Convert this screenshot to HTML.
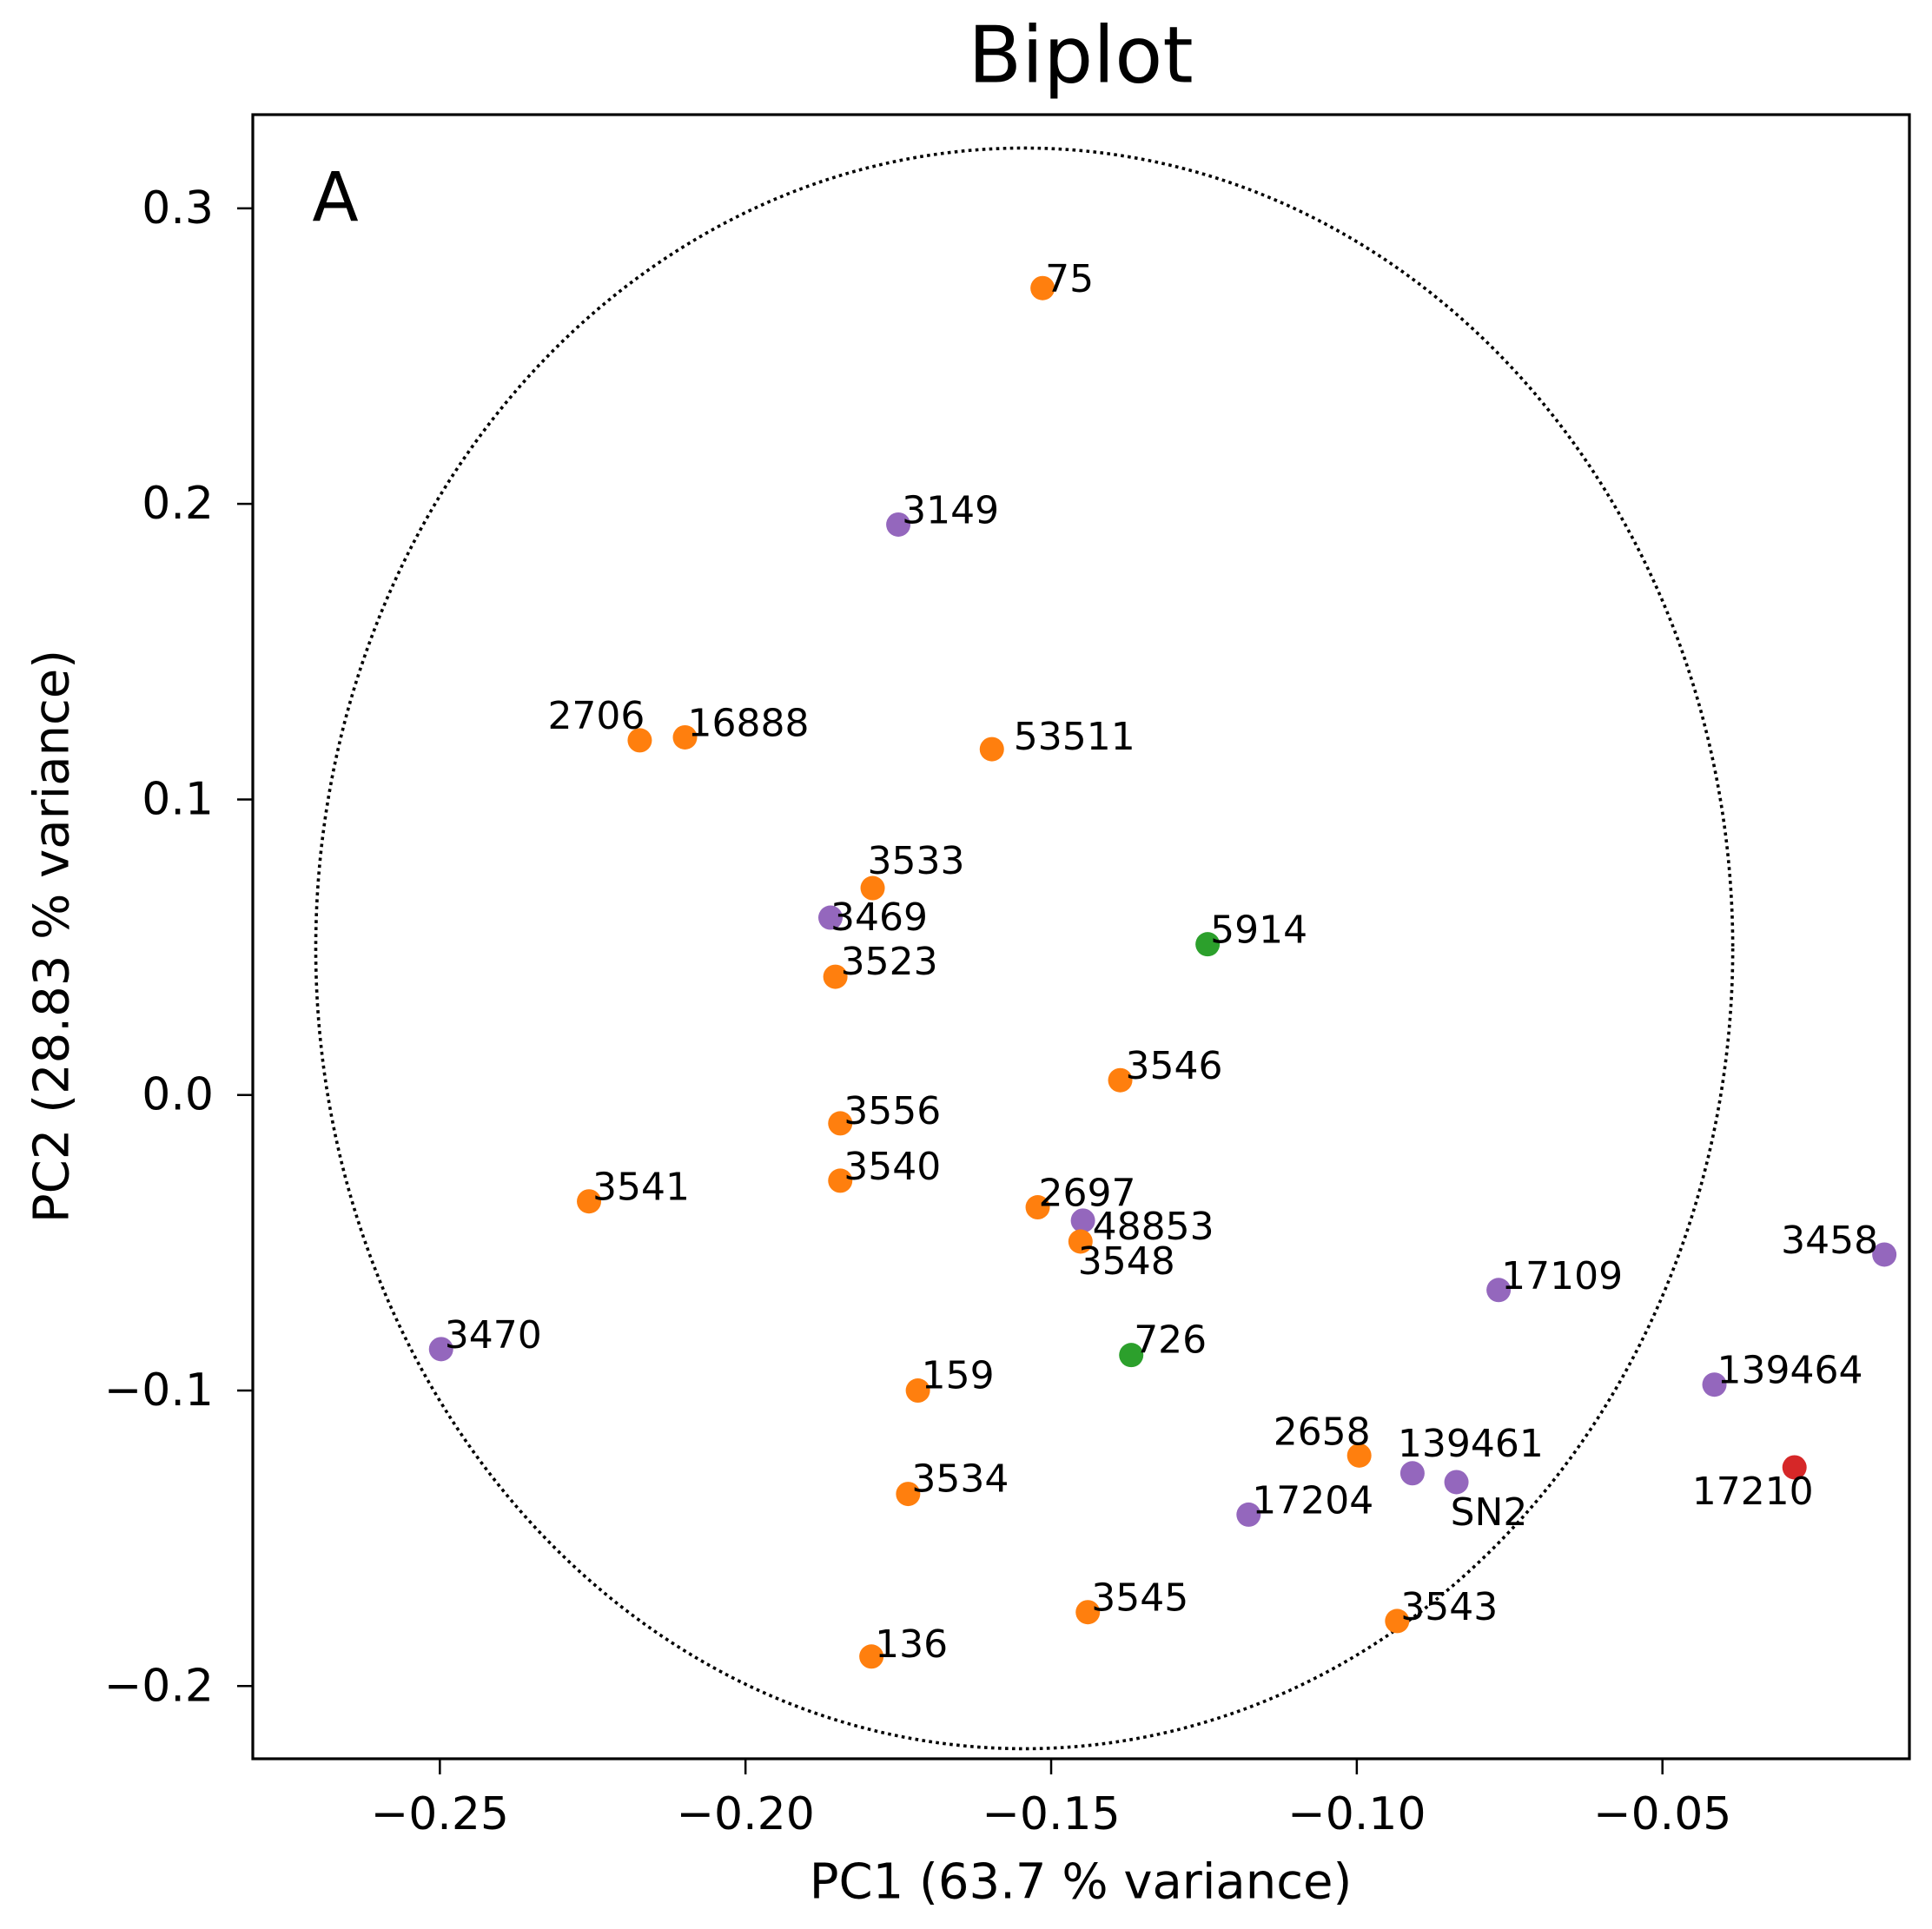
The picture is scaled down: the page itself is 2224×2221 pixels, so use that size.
<!DOCTYPE html>
<html><head><meta charset="utf-8"><style>
html,body{margin:0;padding:0;background:#fff;}
svg{display:block;font-family:"DejaVu Sans","Liberation Sans",sans-serif;}
</style></head><body>
<svg id="chart" width="2224" height="2221" viewBox="0 0 2224 2221" xmlns="http://www.w3.org/2000/svg">
<rect width="2224" height="2221" fill="#fff"/>
<text x="1244" y="64" font-size="90" text-anchor="middle" dominant-baseline="central">Biplot</text>
<g id="plot"></g>
<text x="386" y="228" font-size="78" text-anchor="middle" dominant-baseline="central">A</text>
<text x="1244" y="2167" font-size="56" text-anchor="middle" dominant-baseline="central">PC1 (63.7 % variance)</text>
<text x="60" y="1078" font-size="56" text-anchor="middle" dominant-baseline="central" transform="rotate(-90 60 1078)">PC2 (28.83 % variance)</text>
</svg>
<script>
const labels = ["75","3149","2706","16888","53511","3533","3469","5914","3523","3546","3556","3540","3541","2697","48853","3548","3458","17109","3470","726","159","139464","17210","2658","139461","SN2","17204","3534","3545","3543","136"];
const pc1 = [-0.1514,-0.175,-0.2173,-0.2099,-0.1597,-0.1792,-0.1861,-0.1244,-0.1853,-0.1387,-0.1845,-0.1845,-0.2256,-0.1522,-0.1448,-0.1452,-0.0137,-0.0768,-0.2498,-0.1369,-0.1718,-0.0415,-0.0284,-0.0996,-0.0909,-0.0837,-0.1177,-0.1734,-0.1440,-0.0934,-0.1794];
const pc2 = [0.273,0.193,0.120,0.121,0.117,0.070,0.060,0.051,0.040,0.005,-0.0096,-0.029,-0.036,-0.038,-0.0425,-0.0496,-0.054,-0.066,-0.086,-0.088,-0.100,-0.098,-0.126,-0.122,-0.128,-0.131,-0.142,-0.135,-0.175,-0.178,-0.190];
const groups = ["o","p","o","o","o","o","p","g","o","o","o","o","o","o","p","o","p","p","p","g","o","p","r","o","p","p","p","o","o","o","o"];
const xTicks = [-0.25,-0.20,-0.15,-0.10,-0.05];
const xTickLabels = ["\u22120.25","\u22120.20","\u22120.15","\u22120.10","\u22120.05"];
const yTicks = [0.3,0.2,0.1,0.0,-0.1,-0.2];
const yTickLabels = ["0.3","0.2","0.1","0.0","\u22120.1","\u22120.2"];
const ellipseCenter = [-0.1544,0.0496];
const ellipseRadii = [0.1159,0.2708];

const L=291,R=2198,T=132,B=2025;
const xMin=-0.2806,xMax=-0.0096,yMin=-0.2246,yMax=0.3317;
const sx=v=>L+(v-xMin)/(xMax-xMin)*(R-L);
const sy=v=>B-(v-yMin)/(yMax-yMin)*(B-T);
const colors={o:"#ff7f0e",p:"#9467bd",g:"#2ca02c",r:"#d62728"};
// label placement styling (pixel offsets, anchor), not data
const labelPlace={"75":[3,-10,"start"],"3149":[4,-16,"start"],"2706":[6,-28,"end"],"16888":[3,-16,"start"],"53511":[25,-14,"start"],"3533":[-6,-31,"start"],"3469":[0,0,"start"],"5914":[3,-16,"start"],"3523":[6,-17,"start"],"3546":[6,-16,"start"],"3556":[4,-14,"start"],"3540":[4,-16,"start"],"3541":[4,-16,"start"],"2697":[1,-16,"start"],"48853":[11,7,"start"],"3548":[-3,23,"start"],"3458":[-7,-16,"end"],"17109":[3,-16,"start"],"3470":[4,-16,"start"],"726":[3,-17,"start"],"159":[4,-17,"start"],"139464":[3,-16,"start"],"17210":[-48,28,"middle"],"2658":[13,-27,"end"],"139461":[-17,-34,"start"],"SN2":[-7,35,"start"],"17204":[4,-16,"start"],"3534":[4,-17,"start"],"3545":[4,-16,"start"],"3543":[4,-16,"start"],"136":[4,-14,"start"]};

const NS="http://www.w3.org/2000/svg";
const g=document.getElementById("plot");
function mk(tag,attrs){const e=document.createElementNS(NS,tag);for(const k in attrs)e.setAttribute(k,attrs[k]);g.appendChild(e);return e;}

const ell=mk("ellipse",{cx:sx(ellipseCenter[0]),cy:sy(ellipseCenter[1]),rx:sx(ellipseCenter[0]+ellipseRadii[0])-sx(ellipseCenter[0]),ry:sy(ellipseCenter[1])-sy(ellipseCenter[1]+ellipseRadii[1]),fill:"none",stroke:"#000","stroke-width":3.6,"stroke-dasharray":"3.6 4.4"});



for(let i=0;i<labels.length;i++){
  const cx=sx(pc1[i]),cy=sy(pc2[i]);
  const c=mk("circle",{cx:cx,cy:cy,r:14,fill:colors[groups[i]]});
  
  
}
for(let i=0;i<labels.length;i++){
  const cx=sx(pc1[i]),cy=sy(pc2[i]);
  const p=labelPlace[labels[i]]||[4,-16,"start"];
  const t=mk("text",{x:cx+p[0],y:cy+p[1],"font-size":44,"text-anchor":p[2],"dominant-baseline":"central"});
  t.textContent=labels[i];
  
  
}

const frame=mk("rect",{x:L,y:T,width:R-L,height:B-T,fill:"none",stroke:"#000","stroke-width":3.2});



xTicks.forEach((v,i)=>{
  const x=sx(v);
  const tk=mk("line",{x1:x,x2:x,y1:B,y2:B+18,stroke:"#000","stroke-width":2.5});
  
  
  const t=mk("text",{x:x,y:2089,"font-size":52,"text-anchor":"middle","dominant-baseline":"central"});
  t.textContent=xTickLabels[i];
  
  
});
yTicks.forEach((v,i)=>{
  const y=sy(v);
  const tk=mk("line",{x1:L-18,x2:L,y1:y,y2:y,stroke:"#000","stroke-width":2.5});
  
  
  const t=mk("text",{x:246,y:y,"font-size":52,"text-anchor":"end","dominant-baseline":"central"});
  t.textContent=yTickLabels[i];
  
  
});
</script>
</body></html>
